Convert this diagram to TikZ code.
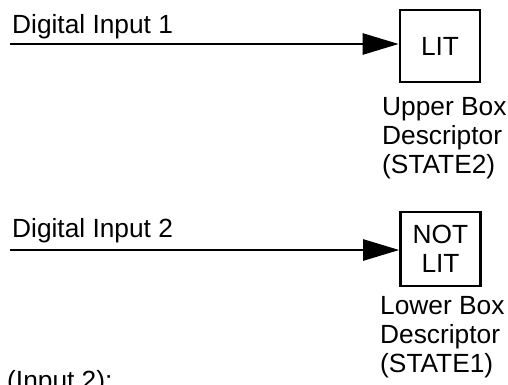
\documentclass[tikz,border=0pt]{standalone}
\usepackage{fontspec}
\setmainfont{Liberation Sans}
\usetikzlibrary{arrows.meta}
\begin{document}
\begin{tikzpicture}[x=1pt,y=-1pt,
  every node/.style={font=\fontsize{26.3}{29}\selectfont, inner sep=0pt},
  statebox/.style={draw, line width=2.6pt, minimum width=80pt, minimum height=72pt, align=center},
  label/.style={anchor=base west},
  desc/.style={anchor=north west, align=left},
  wire/.style={line width=2.6pt, -{Triangle[length=36pt,width=21pt]}}
]
\useasboundingbox (0,0) rectangle (508,385);
% upper
\node[statebox] (box1) at (440,46) {LIT};
\coordinate (in1) at (10,44);
\node[label] (lab1) at (12,34) {Digital Input 1};
\draw[wire] (in1) -- (in1 -| box1.west);
\node[desc] (desc1) at (382,97.3) {Upper Box\\Descriptor\\(STATE2)};
% lower
\node[statebox, minimum height=74pt] (box2) at (440.5,249) {NOT\\LIT};
\coordinate (in2) at (10,250);
\node[label] (lab2) at (12,237) {Digital Input 2};
\draw[wire] (in2) -- (in2 -| box2.west);
\node[desc] (desc2) at (380,296.3) {Lower Box\\Descriptor\\(STATE1)};
% text cut off at the bottom edge, as in the reference
\node[label] (inp) at (7,389) {(Input 2):};
\end{tikzpicture}
\end{document}
